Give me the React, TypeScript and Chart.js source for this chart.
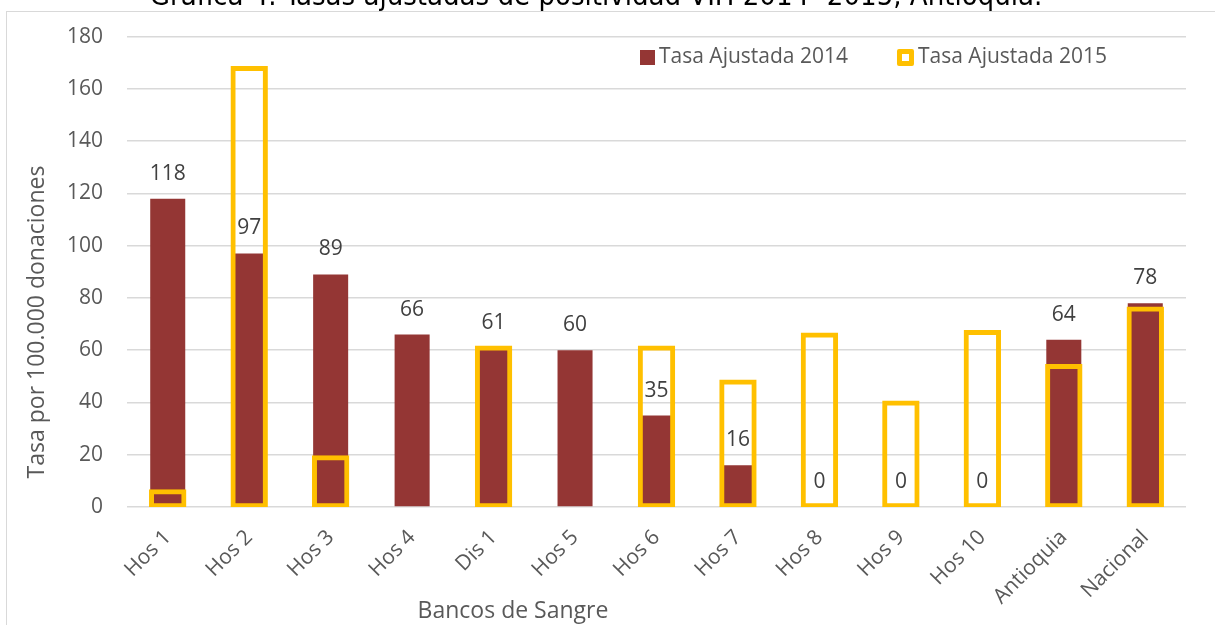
import React, { useEffect, useRef } from "react";
import { Chart, registerables } from "chart.js";

Chart.register(...registerables);

const categories = ["Hos 1", "Hos 2", "Hos 3", "Hos 4", "Dis 1", "Hos 5", "Hos 6", "Hos 7", "Hos 8", "Hos 9", "Hos 10", "Antioquia", "Nacional"];
const rate2014 = [118, 97, 89, 66, 61, 60, 35, 16, 0, 0, 0, 64, 78];
const rate2015 = [6, 168, 19, 0, 61, 0, 61, 48, 66, 40, 67, 54, 76];
const seriesLabels = ["Tasa Ajustada 2014", "Tasa Ajustada 2015"];
const yMin = 0;
const yMax = 180;
const yStep = 20;
const chartTitle = "Gráfica 4. Tasas ajustadas de positividad VIH 2014- 2015, Antioquia.";
const xTitle = "Bancos de Sangre";
const yTitle = "Tasa por 100.000 donaciones";

const RED = "#943634";
const YELLOW = "#FFC000";
const GRAY = "#595959";
const DARK = "#404040";
const FONT = "'Open Sans', sans-serif";

const overlay = {
  id: "overlay",
  beforeDraw(chart: any) {
    const ctx = chart.ctx;
    ctx.save();
    ctx.fillStyle = "#ffffff";
    ctx.fillRect(0, 0, chart.width, chart.height);
    ctx.strokeStyle = "#d9d9d9";
    ctx.lineWidth = 1;
    ctx.strokeRect(6.5, 11.5, 1400, 800);
    ctx.restore();
  },
  afterDatasetsDraw(chart: any) {
    const ctx = chart.ctx;
    ctx.save();
    ctx.font = `21px ${FONT}`;
    ctx.fillStyle = DARK;
    ctx.textAlign = "center";
    ctx.textBaseline = "middle";
    const meta = chart.getDatasetMeta(0);
    meta.data.forEach((el: any, i: number) => {
      ctx.fillText(String(rate2014[i]), el.x, el.y - 25);
    });
    ctx.restore();
  },
  afterDraw(chart: any) {
    const ctx = chart.ctx;
    ctx.save();
    ctx.font = `29px 'DejaVu Sans Condensed', sans-serif`;
    ctx.fillStyle = "#000000";
    ctx.textAlign = "center";
    ctx.textBaseline = "alphabetic";
    ctx.fillText(chartTitle, 596, 5);

    ctx.font = `23px ${FONT}`;
    ctx.fillStyle = GRAY;
    ctx.textBaseline = "middle";
    ctx.fillText(xTitle, 513, 611);
    ctx.save();
    ctx.translate(37, 322);
    ctx.rotate(-Math.PI / 2);
    ctx.fillText(yTitle, 0, 0);
    ctx.restore();

    ctx.font = `21px ${FONT}`;
    ctx.textAlign = "left";
    const ly = 57;
    let lx = 640;
    ctx.fillStyle = RED;
    ctx.fillRect(lx, ly - 7, 15, 15);
    ctx.fillStyle = GRAY;
    ctx.fillText(seriesLabels[0], lx + 19, ly);
    lx = lx + 19 + ctx.measureText(seriesLabels[0]).width + 49;
    ctx.fillStyle = YELLOW;
    ctx.beginPath();
    (ctx as any).roundRect(lx, ly - 8, 17, 17, 2);
    ctx.fill();
    ctx.fillStyle = "#ffffff";
    ctx.fillRect(lx + 5, ly - 3, 7, 7);
    ctx.fillStyle = GRAY;
    ctx.fillText(seriesLabels[1], lx + 21, ly);
    ctx.restore();
  },
};

export default function App() {
  const ref = useRef<HTMLCanvasElement | null>(null);
  useEffect(() => {
    if (!ref.current) return;
    const chart = new Chart(ref.current, {
      type: "bar",
      data: {
        labels: categories,
        datasets: [
          {
            label: seriesLabels[0],
            data: rate2014,
            backgroundColor: RED,
            borderWidth: 0,
            grouped: false,
            barPercentage: 0.43,
            categoryPercentage: 1,
            order: 2,
          },
          {
            label: seriesLabels[1],
            data: rate2015,
            backgroundColor: "rgba(0,0,0,0)",
            borderColor: YELLOW,
            borderWidth: (c: any) => (c.raw ? 1 : 0),
            borderSkipped: false,
            inflateAmount: (c: any) => (c.raw ? 2 : 0),
            grouped: false,
            barPercentage: 0.41,
            categoryPercentage: 1,
            order: 1,
          },
        ],
      },
      options: {
        responsive: false,
        animation: false,
        layout: { padding: { left: 0, right: 29, top: 33, bottom: 0 } },
        plugins: {
          legend: { display: false },
          title: { display: false },
          tooltip: { enabled: false },
        },
        scales: {
          x: {
            grid: { display: false, drawTicks: false },
            border: { display: false },
            ticks: {
              color: GRAY,
              font: { family: FONT, size: 21 },
              maxRotation: 45,
              minRotation: 45,
              padding: 18,
              autoSkip: false,
            },
            afterFit: (scale: any) => {
              scale.height = 118;
            },
          },
          y: {
            min: yMin,
            max: yMax,
            grid: { color: "#d9d9d9", lineWidth: 1.5, drawTicks: false },
            border: { display: false },
            ticks: {
              stepSize: yStep,
              color: GRAY,
              font: { family: FONT, size: 21 },
              padding: 24,
            },
            afterFit: (scale: any) => {
              scale.width = 127;
            },
          },
        },
      },
      plugins: [overlay],
    } as any);
    return () => chart.destroy();
  }, []);

  return (
    <div style={{ position: "fixed", left: 0, top: 0, width: 1215, height: 625, background: "#fff" }}>
      <canvas ref={ref} width={1215} height={625} />
    </div>
  );
}
